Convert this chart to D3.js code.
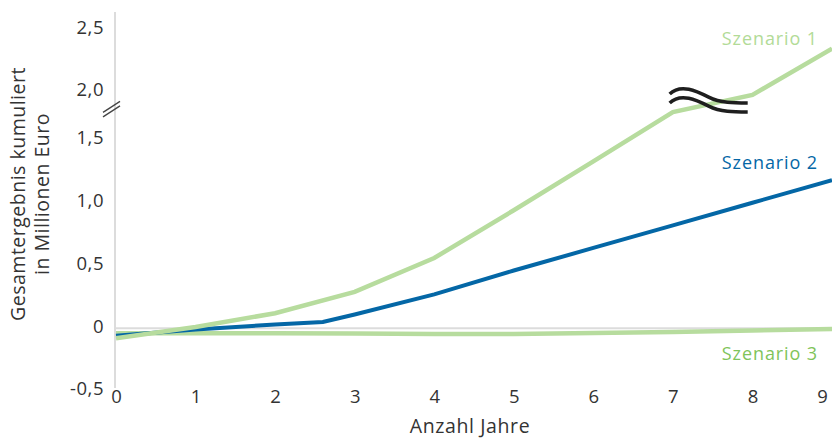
<!DOCTYPE html>
<html><head><meta charset="utf-8">
<script src="https://cdn.jsdelivr.net/npm/d3@7"></script>
<style>
html,body{margin:0;padding:0;background:#fff;}
svg{display:block;font-family:"Open Sans",sans-serif;}
</style></head>
<body><svg id="c" width="832" height="438"></svg>
<script>
// ---- data ----
const years = [0,1,2,3,4,5,6,7,8,9];
const szenario1 = [-0.08,0.01,0.12,0.29,0.56,0.94,1.33,1.79,1.97,2.35];
const szenario2X = [0,1,2,2.6,3,4,5,6,7,8,9];
const szenario2 = [-0.06,-0.01,0.03,0.05,0.11,0.27,0.46,0.64,0.82,1.00,1.18];
const szenario3 = [-0.04,-0.04,-0.04,-0.042,-0.046,-0.046,-0.038,-0.03,-0.018,-0.006];
const yTickValues = [-0.5,0,0.5,1.0,1.5,2.0,2.5];
const yTickLabels = ["-0,5","0","0,5","1,0","1,5","2,0","2,5"];
const xTickLabels = ["0","1","2","3","4","5","6","7","8","9"];
const seriesNames = ["Szenario 1","Szenario 2","Szenario 3"];

const svg = d3.select("#c");
const x = d3.scaleLinear().domain([0,9]).range([116,832]);
// broken axis: compressed between 1.5 and 2.0
const y = d3.scaleLinear().domain([-0.5,1.5,2.0,2.5]).range([391,140,92,30]);

// y axis line
svg.append("line").attr("x1",115).attr("x2",115).attr("y1",12).attr("y2",388)
  .attr("stroke","#dcdcdc").attr("stroke-width",2);
// zero line
svg.append("line").attr("x1",116).attr("x2",832).attr("y1",y(0)).attr("y2",y(0))
  .attr("stroke","#dcdcdc").attr("stroke-width",2);

// y axis labels
const yAxis = d3.axisLeft(y).tickValues(yTickValues)
  .tickFormat((d,i)=>yTickLabels[i]).tickSize(0).tickPadding(0);
const gy = svg.append("g").attr("transform","translate(104,0)").call(yAxis);
gy.select(".domain").remove();
gy.selectAll("text").attr("font-family","Open Sans, sans-serif").attr("font-size",18.5)
  .attr("letter-spacing",0.5).attr("fill","#333").attr("dy","0.34em").attr("y",-2.5);

// x axis labels
const xAxis = d3.axisBottom(x).tickValues(years)
  .tickFormat((d,i)=>xTickLabels[i]).tickSize(0).tickPadding(0);
const gx = svg.append("g").attr("transform","translate(0,390)").call(xAxis);
gx.select(".domain").remove();
gx.selectAll("text").attr("font-family","Open Sans, sans-serif").attr("font-size",18.5)
  .attr("fill","#333").attr("dy","0.71em").attr("y",0);
gx.selectAll(".tick").filter(d=>d===9).select("text").attr("x",-10);

// axis break mark on y axis
const yb = y(1.85);
[0,4.5].forEach(o=>{
  svg.append("line").attr("x1",103).attr("y1",yb+6+o).attr("x2",120).attr("y2",yb-5+o)
    .attr("stroke","#444").attr("stroke-width",1.3);
});

// lines
const line = d3.line().x(d=>x(d[0])).y(d=>y(d[1]));
const s3 = years.map((d,i)=>[d,szenario3[i]]);
const s2 = szenario2X.map((d,i)=>[d,szenario2[i]]);
const s1 = years.map((d,i)=>[d,szenario1[i]]);
const green = "#b7dc9e";
svg.append("path").datum(s3).attr("d",line).attr("fill","none").attr("stroke",green).attr("stroke-width",4.5);
svg.append("path").datum(s2).attr("d",line).attr("fill","none").attr("stroke","#0467a6").attr("stroke-width",4);
svg.append("path").datum(s1).attr("d",line).attr("fill","none").attr("stroke",green).attr("stroke-width",4.5);

// wavy break symbol
const wx = x(7.45), wy = y(1.9);
[-4.5,4.5].forEach(off=>{
  svg.append("path")
    .attr("d",`M${wx-39},${wy+off-3} C${wx-28},${wy+off-14} ${wx-12},${wy+off-6} ${wx},${wy+off} S${wx+25},${wy+off+6} ${wx+39},${wy+off+6}`)
    .attr("fill","none").attr("stroke","#1e1e1e").attr("stroke-width",3.5);
});

// series labels
const lab = [
  {t:seriesNames[0], yv:2.43, c:"#b2db97"},
  {t:seriesNames[1], yv:1.32, c:"#0467a6"},
  {t:seriesNames[2], yv:-0.2, c:"#7fc45a"}
];
lab.forEach(l=>{
  svg.append("text").attr("x",818).attr("y",y(l.yv)).attr("dy","0.35em")
    .attr("text-anchor","end").attr("font-size",18).attr("letter-spacing",0.9)
    .attr("fill",l.c).text(l.t);
});

// axis titles
svg.append("text").attr("x",470).attr("y",433).attr("text-anchor","middle")
  .attr("font-size",19.5).attr("letter-spacing",0.6).attr("fill","#333").text("Anzahl Jahre");
const yt = svg.append("text").attr("transform","translate(0,194) rotate(-90)")
  .attr("text-anchor","middle").attr("font-size",19.5).attr("letter-spacing",0.5).attr("fill","#333");
yt.append("tspan").attr("x",0).attr("y",25).text("Gesamtergebnis kumuliert");
yt.append("tspan").attr("x",0).attr("y",49).text("in Millionen Euro");
</script></body></html>
